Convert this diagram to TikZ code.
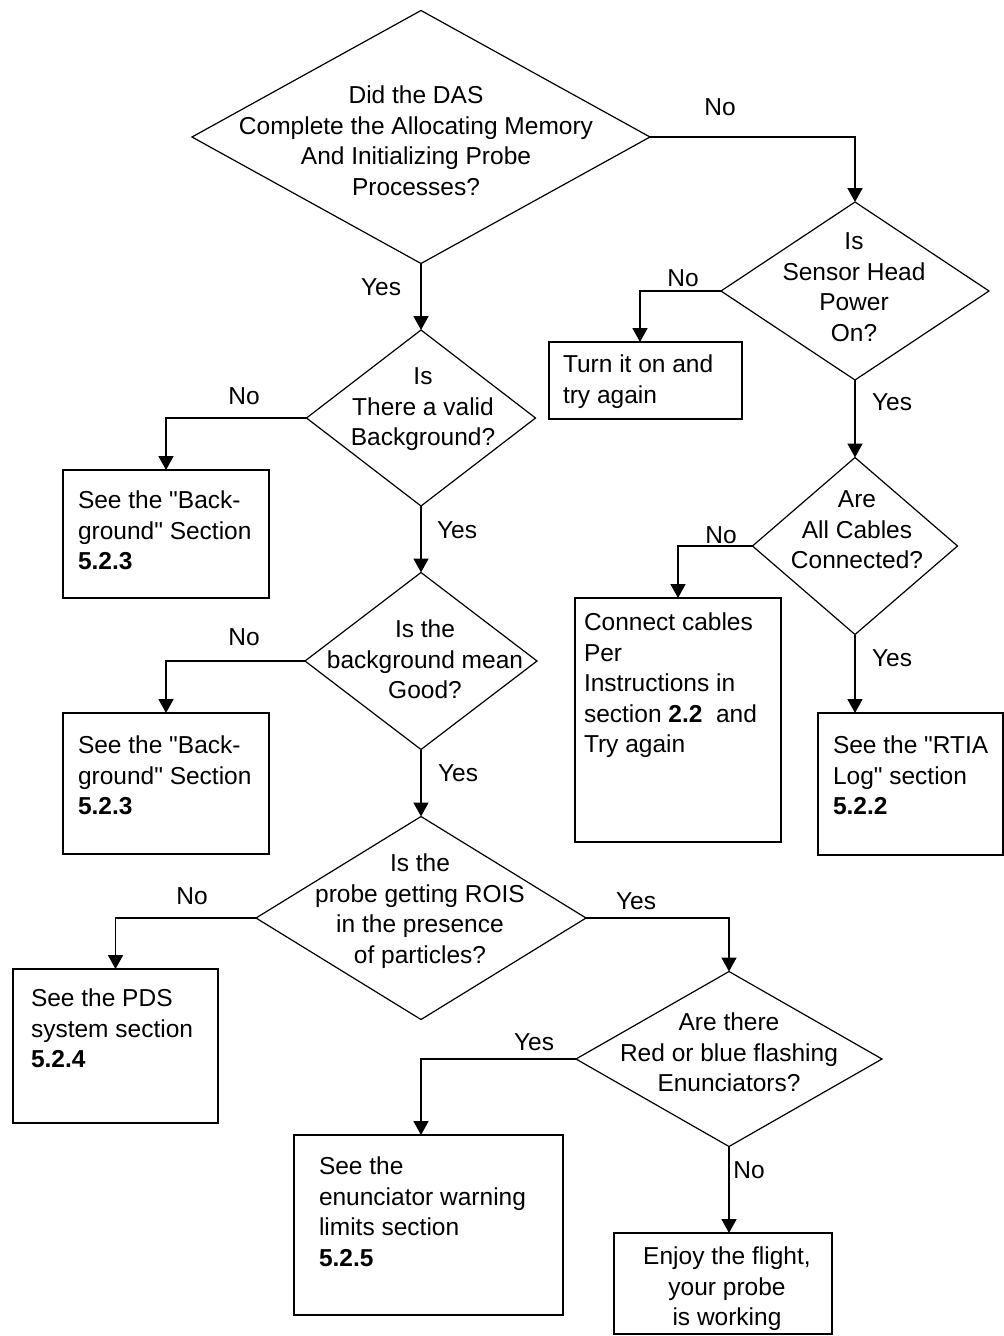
\documentclass[tikz,border=0pt]{standalone}
\usepackage{fontspec}
\setmainfont{Liberation Sans}[Ligatures=TeXOff]
\usetikzlibrary{shapes.geometric,arrows.meta}
\begin{document}
\begin{tikzpicture}[x=1pt,y=-1pt,
  every node/.style={font=\fontsize{24.5}{30.5}\selectfont, inner sep=0pt, outer sep=0pt},
  dia/.style={draw, diamond, line width=1.2pt},
  box/.style={draw, rectangle, line width=1.8pt, anchor=north west},
  conn/.style={line width=1.8pt, -{Triangle[width=15pt,length=14pt]}},
  dtext/.style={anchor=north, align=center},
  btext/.style={anchor=north west, align=left},
  lab/.style={anchor=center}
]
\useasboundingbox (0,0) rectangle (1004,1336);
\fill[white] (0,0) rectangle (1004,1336);

% decisions
\node[dia, minimum width=458pt, minimum height=253pt] (d1) at (421,137) {};
\node[dia, minimum width=268pt, minimum height=178pt] (d2) at (855,291) {};
\node[dia, minimum width=205pt, minimum height=177pt] (d3) at (855,546) {};
\node[dia, minimum width=229pt, minimum height=176pt] (d4) at (421,418) {};
\node[dia, minimum width=232pt, minimum height=177pt] (d5) at (421,661) {};
\node[dia, minimum width=330pt, minimum height=203pt] (d6) at (421,918) {};
\node[dia, minimum width=306pt, minimum height=175pt] (d7) at (729,1059) {};

\node[dtext] (t1) at (416,86) {Did the DAS\\Complete the Allocating Memory\\And Initializing Probe\\Processes?};
\node[dtext] (t2) at (854,233) {Is\\Sensor Head\\Power\\On?};
\node[dtext] (t3) at (857,491) {Are\\All Cables\\Connected?};
\node[dtext] (t4) at (423,368) {Is\\There a valid\\Background?};
\node[dtext] (t5) at (425,620) {Is the\\background mean\\Good?};
\node[dtext] (t6) at (420,854) {Is the\\probe getting ROIS\\in the presence\\of particles?};
\node[dtext] (t7) at (729,1013) {Are there\\Red or blue flashing\\Enunciators?};

% boxes
\node[box, minimum width=193pt, minimum height=77pt] (bt) at (549,342) {};
\node[box, minimum width=206pt, minimum height=244pt] (bc) at (575,598) {};
\node[box, minimum width=185pt, minimum height=142pt] (br) at (818,713) {};
\node[box, minimum width=206pt, minimum height=128pt] (b1) at (63,470) {};
\node[box, minimum width=206pt, minimum height=141pt] (b2) at (63,713) {};
\node[box, minimum width=205pt, minimum height=154pt] (b3) at (13,969) {};
\node[box, minimum width=269pt, minimum height=180pt] (b4) at (294,1135) {};
\node[box, minimum width=218pt, minimum height=101pt] (b5) at (614,1233) {};

\node[btext] (tt) at (563,355) {Turn it on and\\try again};
\node[btext] (tc) at (584,613) {Connect cables\\Per\\Instructions in\\section \textbf{2.2}\ \ and\\Try again};
\node[btext] (tr) at (833,736) {See the "RTIA\\Log" section\\\textbf{5.2.2}};
\node[btext] (tb1) at (78,491) {See the "Back-\\ground" Section\\\textbf{5.2.3}};
\node[btext] (tb2) at (78,736) {See the "Back-\\ground" Section\\\textbf{5.2.3}};
\node[btext] (tb3) at (31,989) {See the PDS\\system section\\\textbf{5.2.4}};
\node[btext] (tb4) at (319,1157) {See the\\enunciator warning\\limits section\\\textbf{5.2.5}};
\node[dtext] (tb5) at (727,1247) {Enjoy the flight,\\your probe\\is working};

% free ends
\coordinate (tin) at (640,342);
\coordinate (b4in) at (421,1135);

% connectors
\draw[conn] (d1.east) -| (d2.north);
\draw[conn] (d1.south) -- (d4.north);
\draw[conn] (d2.west) -| (tin);
\draw[conn] (d2.south) -- (d3.north);
\draw[conn] (d3.west) -| (bc.north);
\draw[conn] (d3.south) -- (d3.south |- br.north);
\draw[conn] (d4.west) -| (b1.north);
\draw[conn] (d4.south) -- (d5.north);
\draw[conn] (d5.west) -| (b2.north);
\draw[conn] (d5.south) -- (d6.north);
\draw[conn] (d6.west) -| (b3.north);
\draw[conn] (d6.east) -| (d7.north);
\draw[conn] (d7.west) -| (b4in);
\draw[conn] (d7.south) -- (d7.south |- b5.north);

% labels
\node[lab] (l1) at (720,107) {No};
\node[lab] (l2) at (381,287) {Yes};
\node[lab] (l3) at (683,278) {No};
\node[lab] (l4) at (892,402) {Yes};
\node[lab] (l5) at (721,535) {No};
\node[lab] (l6) at (892,658) {Yes};
\node[lab] (l7) at (244,396) {No};
\node[lab] (l8) at (457,530) {Yes};
\node[lab] (l9) at (244,637) {No};
\node[lab] (l10) at (458,773) {Yes};
\node[lab] (l11) at (192,896) {No};
\node[lab] (l12) at (636,901) {Yes};
\node[lab] (l13) at (534,1042) {Yes};
\node[lab] (l14) at (749,1170) {No};
\end{tikzpicture}
\end{document}
